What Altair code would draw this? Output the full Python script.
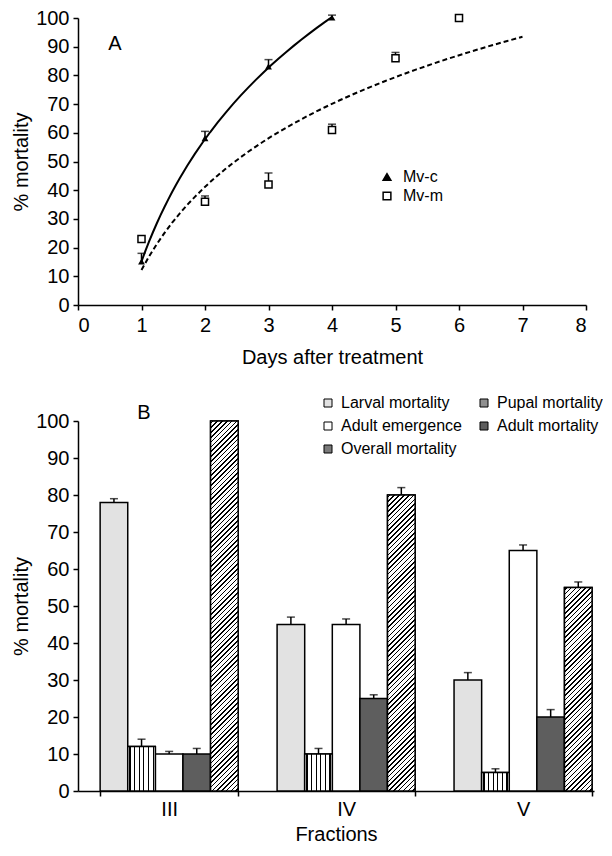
import math
import altair as alt
import pandas as pd

# ---------------- Panel A data ----------------
days_c = [1, 2, 3, 4]
mv_c = [15, 58, 83, 100]
mv_c_err = [3, 2.5, 2.5, 1]
days_m = [1, 2, 3, 4, 5, 6]
mv_m = [23, 36, 42, 61, 86, 100]
mv_m_err = [0, 2, 4, 2, 2, 0]

# ---------------- Panel B data ----------------
fractions = ["III", "IV", "V"]
series = ["Larval mortality", "Pupal mortality", "Adult emergence",
          "Adult mortality", "Overall mortality"]
larval = [78, 45, 30]
larval_err = [1, 2, 2]
pupal = [12, 10, 5]
pupal_err = [2, 1.5, 1]
emergence = [10, 45, 65]
emergence_err = [0.7, 1.5, 1.5]
adult = [10, 25, 20]
adult_err = [1.5, 1, 2]
overall = [100, 80, 55]
overall_err = [0, 2, 1.5]

FONT = "Liberation Sans"
y_ticks = list(range(0, 101, 10))

dfA = pd.DataFrame(
    [{"day": d, "value": v, "err": e, "series": "Mv-c"} for d, v, e in zip(days_c, mv_c, mv_c_err)]
    + [{"day": d, "value": v, "err": e, "series": "Mv-m"} for d, v, e in zip(days_m, mv_m, mv_m_err)]
)

rows = []
for s, vals, errs in [
    (series[0], larval, larval_err),
    (series[1], pupal, pupal_err),
    (series[2], emergence, emergence_err),
    (series[3], adult, adult_err),
    (series[4], overall, overall_err),
]:
    for f, v, e in zip(fractions, vals, errs):
        rows.append({"fraction": f, "series": s, "value": v, "err": e})
dfB = pd.DataFrame(rows)

# ---------------- Panel A ----------------
W1, H1 = 508, 287
axXA = alt.Axis(values=list(range(9)), format="d", title="Days after treatment",
                labelPadding=5, titlePadding=12, labelOverlap=False)
axYA = alt.Axis(values=y_ticks, title="% mortality",
                labelPadding=4, titlePadding=4, labelOverlap=False)
scXA = alt.Scale(domain=[0, 8], nice=False)
scYA = alt.Scale(domain=[0, 100], nice=False)
xA = alt.X("day:Q", scale=scXA, axis=axXA)
yA = alt.Y("value:Q", scale=scYA, axis=axYA)
yTopA = alt.Y("top:Q", scale=scYA, axis=axYA)

baseA = alt.Chart(dfA)
capShape = "M-1,0L1,0"

errA = baseA.transform_filter("datum.err > 0").transform_calculate(
    top="datum.value + datum.err").mark_rule(color="black", strokeWidth=1.5).encode(
    x=xA, y=yA, y2="top:Q")
capA = baseA.transform_filter("datum.err > 0").transform_calculate(
    top="datum.value + datum.err").mark_point(shape=capShape, size=64, color="black",
                                              strokeWidth=1.5, filled=False).encode(
    x=xA, y=yTopA)

lineC = baseA.transform_filter("datum.series == 'Mv-c'").transform_regression(
    "day", "value", method="log", extent=[1, 4]).mark_line(
    color="black", strokeWidth=2).encode(x=xA, y=yA)
lineM = baseA.transform_filter("datum.series == 'Mv-m'").transform_regression(
    "day", "value", method="log", extent=[1, 7]).mark_line(
    color="black", strokeWidth=2, strokeDash=[5, 3]).encode(x=xA, y=yA)

legA = alt.Legend(title=None, orient="none", legendX=301, legendY=151, padding=0,
                  symbolSize=60, symbolStrokeWidth=1.5, labelFontSize=16,
                  labelFont=FONT, labelColor="black", rowPadding=3,
                  labelOffset=8)
domA = ["Mv-c", "Mv-m"]
ptsA = baseA.mark_point(filled=True, strokeWidth=1.5, opacity=1).encode(
    x=xA, y=yA,
    shape=alt.Shape("series:N", scale=alt.Scale(domain=domA,
                                                 range=["triangle-up", "square"]),
                    legend=legA),
    fill=alt.Fill("series:N", scale=alt.Scale(domain=domA, range=["black", "white"]),
                  legend=legA),
    stroke=alt.Stroke("series:N", scale=alt.Scale(domain=domA, range=["black", "black"]),
                      legend=legA),
    size=alt.value(18),
)
ptsM = baseA.transform_filter("datum.series == 'Mv-m'").mark_point(
    filled=True, fill="white", stroke="black", strokeWidth=1.5, shape="square",
    size=50, opacity=1).encode(x=xA, y=yA)

txtA = alt.Chart(pd.DataFrame({"t": ["A"]})).mark_text(
    fontSize=20, font=FONT, color="black", align="center", baseline="middle").encode(
    x=alt.value(37), y=alt.value(26), text="t:N")

chartA = alt.layer(errA, capA, lineC, lineM, ptsA, ptsM, txtA).properties(
    width=W1, height=H1)

# ---------------- Panel B ----------------
W2, H2 = 516, 370
PI, PO, AL = 0.22, 0.068, 0.92
step = W2 / (3 - PI + 2 * PO)
barw = step * (1 - PI) / 5

xB = alt.X("fraction:N", sort=fractions,
           scale=alt.Scale(domain=fractions, paddingInner=PI, paddingOuter=PO, align=AL),
           axis=alt.Axis(title="Fractions", labelAngle=0, tickBand="extent",
                         labelPadding=3, titlePadding=5))
xoB = alt.XOffset("series:N", sort=series,
                  scale=alt.Scale(domain=series, paddingInner=0, paddingOuter=0))
scYB = alt.Scale(domain=[0, 100], nice=False)
axYB = alt.Axis(values=y_ticks, title="% mortality",
                labelPadding=4, titlePadding=4, labelOverlap=False)
yB = alt.Y("value:Q", scale=scYB, axis=axYB)
yTopB = alt.Y("top:Q", scale=scYB, axis=axYB)

tone = {"Larval mortality": "#e2e2e2", "Pupal mortality": "#8f8f8f",
        "Adult emergence": "white", "Adult mortality": "#5e5e5e",
        "Overall mortality": "#7a7a7a"}
# legend entries are placed column by column; this order reads row by row
leg_order = [series[0], series[2], series[4], series[1], series[3]]

baseB = alt.Chart(dfB)
bars = baseB.mark_bar(stroke="black", strokeWidth=1.5).encode(
    x=xB, xOffset=xoB, y=yB,
    fill=alt.Fill("series:N", scale=alt.Scale(domain=leg_order,
                                               range=[tone[s] for s in leg_order]),
                  legend=alt.Legend(title=None, orient="none", legendX=242, legendY=-26,
                                    padding=0, columns=2, symbolType="square",
                                    symbolSize=64, symbolStrokeColor="black",
                                    symbolStrokeWidth=1, labelFontSize=16, labelFont=FONT,
                                    labelColor="black", rowPadding=7, columnPadding=14,
                                    labelOffset=5)),
)


def stripe_gradient(n, frac, x2, y2):
    stops = [alt.GradientStop(offset=0, color="white")]
    for k in range(n):
        a = (k + 0.5 - frac / 2) / n
        b = (k + 0.5 + frac / 2) / n
        stops += [alt.GradientStop(offset=a, color="white"),
                  alt.GradientStop(offset=a, color="black"),
                  alt.GradientStop(offset=b, color="black"),
                  alt.GradientStop(offset=b, color="white")]
    stops.append(alt.GradientStop(offset=1, color="white"))
    return alt.LinearGradient(gradient="linear", stops=stops, x1=0, y1=0, x2=x2, y2=y2)


# vertical stripes for pupal mortality
n_v = 6
grad_v = stripe_gradient(n_v, 1.1 * n_v / barw, 1, 0)
pupal_layer = baseB.transform_filter(f"datum.series == '{series[1]}'").mark_bar(
    fill=grad_v, stroke="black", strokeWidth=1.5).encode(x=xB, xOffset=xoB, y=yB)

# diagonal hatch for overall mortality (one gradient per bar)
overall_layers = []
period, lw = 3.4, 1.1
for f, v in zip(fractions, overall):
    h = v / 100 * H2
    w = barw
    L = (w + h) / math.sqrt(2)
    n = max(1, int(round(L / period)))
    t = (w + h) / (w * w + h * h)
    g = stripe_gradient(n, lw * n / L, t * w, t * h)
    overall_layers.append(
        baseB.transform_filter(
            f"datum.series == '{series[4]}' && datum.fraction == '{f}'").mark_bar(
            fill=g, stroke="black", strokeWidth=1.5).encode(x=xB, xOffset=xoB, y=yB))

errB = baseB.transform_filter("datum.err > 0").transform_calculate(
    top="datum.value + datum.err").mark_rule(color="black", strokeWidth=1.5).encode(
    x=xB, xOffset=xoB, y=yB, y2="top:Q")
capB = baseB.transform_filter("datum.err > 0").transform_calculate(
    top="datum.value + datum.err").mark_point(shape=capShape, size=64, color="black",
                                              strokeWidth=1.5, filled=False).encode(
    x=xB, xOffset=xoB, y=yTopB)

txtB = alt.Chart(pd.DataFrame({"t": ["B"]})).mark_text(
    fontSize=20, font=FONT, color="black", align="center", baseline="middle").encode(
    x=alt.value(66), y=alt.value(-8), text="t:N")

chartB = alt.layer(bars, pupal_layer, *overall_layers, errB, capB, txtB).properties(
    width=W2, height=H2)

chart = alt.vconcat(chartA, chartB, spacing=28).resolve_scale(
    fill="independent", shape="independent", stroke="independent",
    x="independent", y="independent"
).resolve_legend(fill="independent", shape="independent", stroke="independent").properties(
    padding={"left": 3, "top": 0, "right": 0, "bottom": 0}
).configure_view(stroke=None).configure_axis(
    labelFont=FONT, titleFont=FONT, labelFontSize=20, titleFontSize=20,
    labelColor="black", titleColor="black", titleFontWeight="normal",
    domainColor="black", tickColor="black", domainWidth=1.5, tickWidth=1.5,
    tickSize=5, grid=False, labelOverlap=False
).configure_legend(labelFont=FONT)

chart.save("out.html", embed_options={"renderer": "svg", "actions": False})
